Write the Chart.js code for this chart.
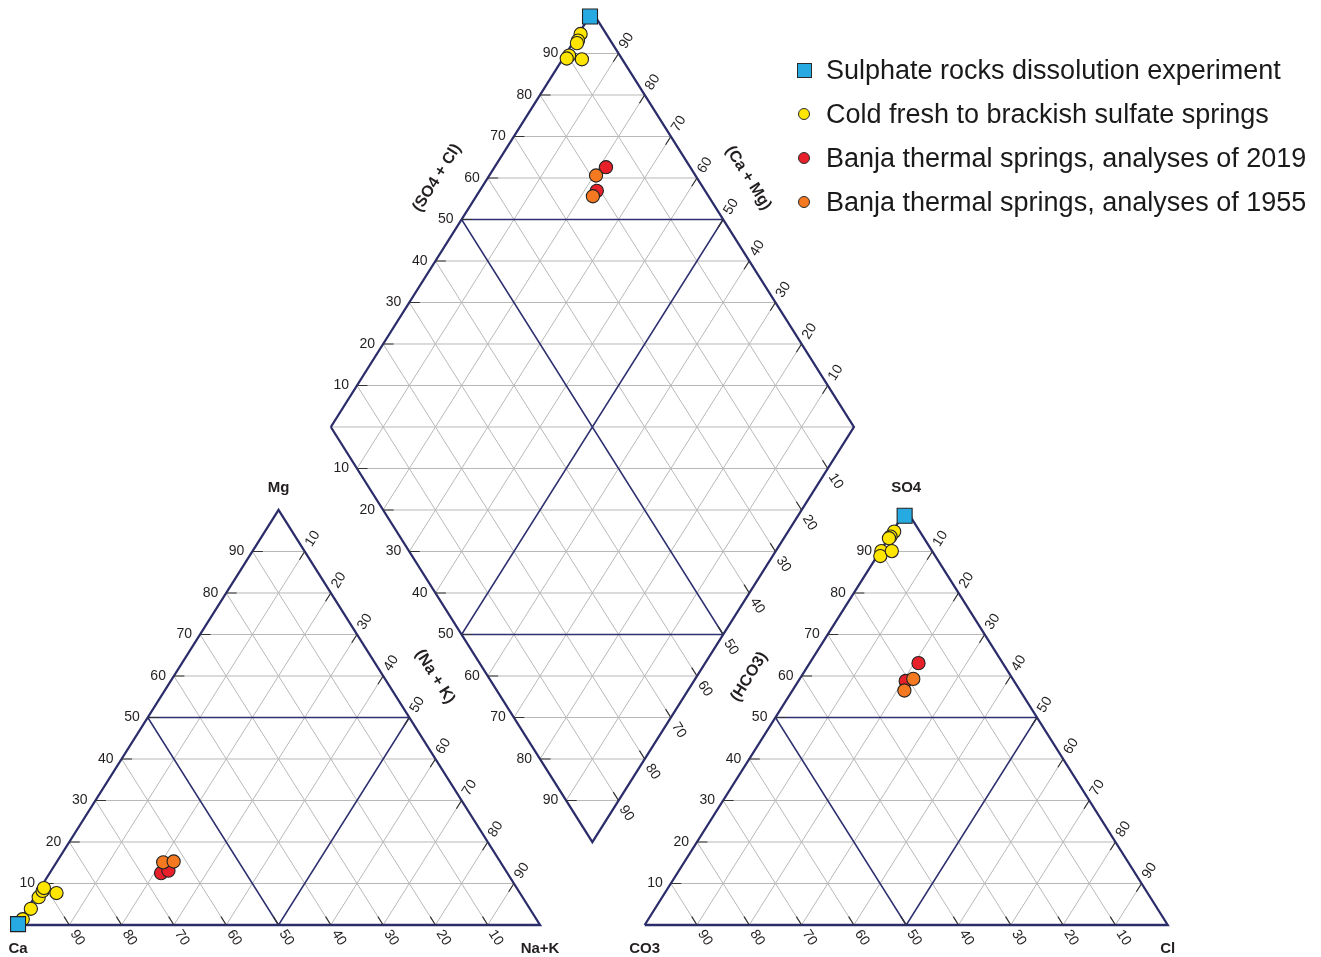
<!DOCTYPE html>
<html lang="en">
<head>
  <meta charset="UTF-8" />
  <title>Piper diagram – sulphate waters</title>
  <script src="https://cdn.jsdelivr.net/npm/chart.js"></script>
  <style>
    body { margin: 0; background: #fff; font-family: 'Liberation Sans', Arial, sans-serif; }
    #wrap { position: relative; width: 1321px; height: 957px; overflow: hidden; }
    #legend { position: absolute; left: 796px; top: 48px; }
    .row { height: 44px; display: flex; align-items: center; font-size: 27px; color: #1a1a1a; white-space: nowrap; }
    .mk { width: 16px; height: 16px; margin-right: 14px; display: flex; align-items: center; justify-content: center; }
    .mk span { display: block; box-sizing: border-box; border: 1px solid #2a2a2a; }
  </style>
</head>
<body>
<div id="wrap">
  <canvas id="piper" width="1321" height="957"></canvas>
  <div id="legend"></div>
</div>

<script>
  // ---- data (percent of meq) ----
  const groupNames = [
    'Sulphate rocks dissolution experiment',
    'Cold fresh to brackish sulfate springs',
    'Banja thermal springs, analyses of 2019',
    'Banja thermal springs, analyses of 1955'
  ];
  const groupColors = ['#27aae1', '#ffe600', '#e8202a', '#f47920'];
  const groupShapes = ['rect', 'circle', 'circle', 'circle'];

  // cations: Mg and Na+K (Ca = rest)
  const expMg = [0.2];
  const expNaK = [0.1];
  const coldMg = [1.4, 3.9, 6.7, 8.2, 8.9, 7.7];
  const coldNaK = [0.4, 0.7, 0.8, 0.8, 0.7, 3.7];
  const banja2019Mg = [12.5, 13.1];
  const banja2019NaK = [21.3, 22.4];
  const banja1955Mg = [15.1, 15.3];
  const banja1955NaK = [20.4, 22.3];

  // anions: SO4 and Cl (CO3 + HCO3 = rest)
  const expSO4 = [98.6];
  const expCl = [0.4];
  const coldSO4 = [94.8, 93.6, 93.2, 90.1, 88.9, 90.1];
  const coldCl = [0.3, 0.2, 0.1, 0.2, 0.6, 2.2];
  const banja2019SO4 = [63.1, 58.8];
  const banja2019Cl = [20.8, 20.5];
  const banja1955SO4 = [59.3, 56.5];
  const banja1955Cl = [21.7, 21.4];

  const gridSteps = [10, 20, 30, 40, 50, 60, 70, 80, 90];

  // ---- Piper geometry (side = 100 units, gap = 20) ----
  const H = 86.6025;
  const cat = (mg, nak) => ({ x: nak + mg / 2, y: mg * H / 100 });
  const an = (so4, cl) => ({ x: 120 + cl + so4 / 2, y: so4 * H / 100 });
  const dia = (n, s) => ({ x: 60 + (n + s) / 2, y: 1.2 * H + H * (s - n) / 100 });

  const gray = [], navy = [], frame = [], marks = [];
  function seg(arr, a, b) { arr.push(a, b, { x: b.x, y: null }); }
  function tick(edge, inner) {
    const dx = inner.x - edge.x, dy = inner.y - edge.y, l = Math.hypot(dx, dy);
    seg(marks, edge, { x: edge.x + dx * 2 / l, y: edge.y + dy * 2 / l });
  }
  const hIn = (p, dir) => ({ x: p.x + dir, y: p.y });

  gridSteps.forEach(k => {
    const tgt = k === 50 ? navy : gray;
    // cation triangle
    seg(tgt, cat(k, 0), cat(k, 100 - k));          // Mg = k
    seg(tgt, cat(0, k), cat(100 - k, k));          // Na+K = k
    seg(tgt, cat(0, 100 - k), cat(100 - k, 0));    // Ca = k
    // anion triangle
    seg(tgt, an(k, 0), an(k, 100 - k));
    seg(tgt, an(0, k), an(100 - k, k));
    seg(tgt, an(0, 100 - k), an(100 - k, 0));
    // diamond
    seg(tgt, dia(k, 0), dia(k, 100));
    seg(tgt, dia(0, k), dia(100, k));

    // ticks
    tick(cat(k, 0), hIn(cat(k, 0), 5));
    tick(cat(100 - k, k), cat(0, k));
    tick(cat(0, 100 - k), cat(100 - k, 0));
    tick(an(k, 0), hIn(an(k, 0), 5));
    tick(an(100 - k, k), an(0, k));
    tick(an(0, 100 - k), an(100 - k, 0));
    tick(dia(0, k), hIn(dia(0, k), 5));
    tick(dia(k, 0), hIn(dia(k, 0), 5));
    tick(dia(k, 100), dia(k, 0));
    tick(dia(100, k), dia(0, k));
  });
  // horizontal lines in the diamond
  for (let d = -90; d <= 90; d += 10) {
    const tgt = Math.abs(d) === 50 ? navy : gray;
    if (d >= 0) seg(tgt, dia(0, d), dia(100 - d, 100));
    else seg(tgt, dia(-d, 0), dia(100, 100 + d));
  }
  // outlines
  frame.push(cat(0, 0), cat(100, 0), cat(0, 100), cat(0, 0), { x: 0, y: null });
  frame.push(an(0, 0), an(100, 0), an(0, 100), an(0, 0), { x: 0, y: null });
  frame.push(dia(0, 0), dia(100, 0), dia(100, 100), dia(0, 100), dia(0, 0), { x: 0, y: null });

  function samplePoints(mg, nak, so4, cl) {
    const pts = [];
    mg.forEach((m, i) => {
      pts.push(cat(m, nak[i]));
      pts.push(an(so4[i], cl[i]));
      pts.push(dia(nak[i], so4[i] + cl[i]));
    });
    return pts;
  }
  const groupData = [
    samplePoints(expMg, expNaK, expSO4, expCl),
    samplePoints(coldMg, coldNaK, coldSO4, coldCl),
    samplePoints(banja2019Mg, banja2019NaK, banja2019SO4, banja2019Cl),
    samplePoints(banja1955Mg, banja1955NaK, banja1955SO4, banja1955Cl)
  ];
  const drawOrder = [0, 3, 2, 1];

  const lineSet = (data, color, width, order) => ({
    type: 'line', data, borderColor: color, borderWidth: width, pointRadius: 0,
    fill: false, tension: 0, spanGaps: false, order, clip: false
  });

  const datasets = groupData.map((d, i) => ({
    type: 'scatter',
    label: groupNames[i],
    data: d,
    pointStyle: groupShapes[i],
    pointRadius: groupShapes[i] === 'rect' ? 10.6 : 6.6,
    backgroundColor: groupColors[i],
    borderColor: '#222',
    borderWidth: 1.1,
    order: drawOrder[i],
    clip: false
  }));
  datasets.push(lineSet(marks, '#333', 1.2, 6));
  datasets.push(lineSet(frame, '#2b2d6b', 2.3, 7));
  datasets.push(lineSet(navy, '#2e3070', 1.5, 8));
  datasets.push(lineSet(gray, '#b8b8b8', 1, 9));

  // ---- labels drawn with the chart's scales ----
  const labelPlugin = {
    id: 'piperLabels',
    afterDatasetsDraw(chart) {
      const { ctx } = chart;
      const xs = chart.scales.x, ys = chart.scales.y;
      const P = u => ({ x: xs.getPixelForValue(u.x), y: ys.getPixelForValue(u.y) });
      ctx.save();
      ctx.fillStyle = '#231f20';
      ctx.font = '14px "Liberation Sans", Arial, sans-serif';

      const hLabel = (u, txt) => {
        const p = P(u);
        ctx.textAlign = 'right'; ctx.textBaseline = 'middle';
        ctx.fillText(txt, p.x - 8, p.y);
      };
      const rLabel = (edge, inner, txt) => {
        const p = P(edge), q = P(inner);
        let dx = p.x - q.x, dy = p.y - q.y;
        const l = Math.hypot(dx, dy); dx /= l; dy /= l;
        ctx.save();
        ctx.translate(p.x + dx * 15, p.y + dy * 15);
        ctx.rotate(Math.atan2(dy, dx));
        ctx.textAlign = 'center'; ctx.textBaseline = 'middle';
        ctx.fillText(txt, 0, 0);
        ctx.restore();
      };

      gridSteps.forEach(k => {
        const t = String(k), r = String(100 - k);
        hLabel(cat(k, 0), t);
        rLabel(cat(100 - k, k), cat(0, k), t);
        rLabel(cat(0, 100 - k), cat(100 - k, 0), t);
        hLabel(an(k, 0), t);
        rLabel(an(100 - k, k), an(0, k), t);
        rLabel(an(0, 100 - k), an(100 - k, 0), t);
        hLabel(dia(0, k), t);
        hLabel(dia(k, 0), t);
        rLabel(dia(k, 100), dia(k, 0), r);
        rLabel(dia(100, k), dia(0, k), r);
      });

      // corner names
      ctx.font = 'bold 15px "Liberation Sans", Arial, sans-serif';
      ctx.textAlign = 'center'; ctx.textBaseline = 'middle';
      const corner = (u, txt, dx, dy) => { const p = P(u); ctx.fillText(txt, p.x + dx, p.y + dy); };
      corner(cat(100, 0), 'Mg', 0, -22);
      corner(an(100, 0), 'SO4', 0, -22);
      corner(cat(0, 0), 'Ca', 1, 24);
      corner(cat(0, 100), 'Na+K', 0, 24);
      corner(an(0, 0), 'CO3', 0, 24);
      corner(an(0, 100), 'Cl', 0, 24);

      // axis titles along the diamond edges
      ctx.font = 'bold 16px "Liberation Sans", Arial, sans-serif';
      const ang = Math.atan2(P(dia(0, 0)).y - P(dia(0, 100)).y, P(dia(0, 100)).x - P(dia(0, 0)).x);
      const title = (u, txt, rot) => {
        const p = P(u);
        ctx.save(); ctx.translate(p.x, p.y); ctx.rotate(rot);
        ctx.fillText(txt, 0, 0); ctx.restore();
      };
      title({ x: 80.3, y: 155.9 }, '(SO4 + Cl)', -ang);
      title({ x: 139.8, y: 155.9 }, '(Ca + Mg)', ang);
      title({ x: 79.9, y: 51.8 }, '(Na + K)', ang);
      title({ x: 140.0, y: 51.8 }, '(HCO3)', -ang);
      ctx.restore();
    }
  };

  new Chart(document.getElementById('piper'), {
    type: 'scatter',
    data: { datasets },
    options: {
      responsive: false,
      animation: false,
      events: [],
      layout: { padding: 0, autoPadding: false },
      plugins: { legend: { display: false }, tooltip: { enabled: false } },
      scales: {
        x: { type: 'linear', min: -3.25, max: 249.3, display: false },
        y: { type: 'linear', min: -6.68, max: 193.03, display: false }
      }
    },
    plugins: [labelPlugin]
  });

  // legend
  const legend = document.getElementById('legend');
  groupNames.forEach((name, i) => {
    const row = document.createElement('div');
    row.className = 'row';
    const sq = groupShapes[i] === 'rect';
    row.innerHTML = `<div class="mk"><span style="width:${sq ? 15 : 12}px;height:${sq ? 15 : 12}px;` +
      `background:${groupColors[i]};border-radius:${sq ? 0 : '50%'}"></span></div>${name}`;
    legend.appendChild(row);
  });
</script>
</body>
</html>
